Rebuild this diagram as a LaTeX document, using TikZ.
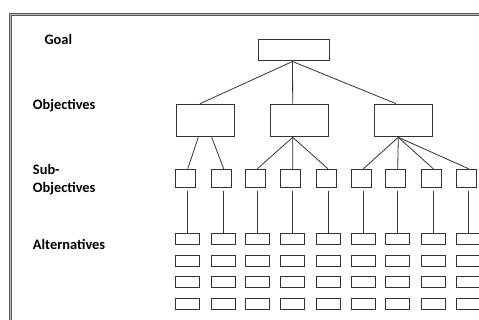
\documentclass[tikz,border=0pt]{standalone}
\usepackage{fontspec}
\setmainfont{Carlito}
\usetikzlibrary{calc}

\begin{document}
\begin{tikzpicture}[
  x=0.75pt, y=-0.75pt,
  frame/.style={draw=black!65, double=gray!55, line width=0.75pt, double distance=0.9pt},
  link/.style={draw=black!80, line width=0.6pt},
  box/.style={
    rectangle,
    draw=black!80,
    fill=white,
    line width=0.75pt,
    inner sep=0pt
  },
  goalbox/.style={box, minimum width=53.25pt, minimum height=15.75pt},
  objbox/.style={box, minimum width=43.5pt, minimum height=24.5pt},
  subbox/.style={box, minimum width=15pt, minimum height=13.8pt},
  altbox/.style={box, minimum width=18pt, minimum height=8.25pt},
  level/.style={anchor=base west, inner sep=0pt, font=\fontsize{10.8}{12.75}\selectfont\bfseries, text=black}
]
  \useasboundingbox (0,0) rectangle (479,320);
  \clip (0,0) rectangle (479,320);

  % Outer frame, running off the right and bottom edges
  \draw[frame] (10.7,14.5) rectangle (500,340);

  % Level labels
  \node[level] (goalLbl) at (44.3,44.3) {Goal};
  \node[level] (objLbl) at (32.7,110) {Objectives};
  \node[level] (subLbl) at (32.7,175) {Sub-};
  \node[level] (subLbl2) at (32.7,192.3) {Objectives};
  \node[level] (altLbl) at (32.7,249.3) {Alternatives};

  % Goal and objectives
  \node[goalbox] (goal) at (293.5,50.5) {};
  \node[objbox] (objLeft) at (205,120.5) {};
  \node[objbox] (objMid) at (299,120.5) {};
  \node[objbox] (objRight) at (403.8,120.5) {};

  \draw[link] ($(goal.south)+(-1,0)$) -- ($(objLeft.north)+(-5,0)$);
  \draw[link] ($(goal.south)+(-1,0)$) -- ($(objMid.north)+(-6.3,0)$);
  \draw[link] ($(goal.south)+(-1,0)$) -- ($(objRight.north)+(-7.8,0)$);

  % Sub-objectives with their columns of alternatives
  \foreach \xl [count=\i] in {175.7,211.7,245.3,280.7,316,351.3,385.7,421.3,456.7} {
    \node[subbox] (sub\i) at (\xl+10,178.5) {};
    \foreach \yt [count=\r] in {233.3,255.7,276.7,298.3}
      \node[altbox] (alt\i-\r) at (\xl+12,\yt+5.5) {};
    \draw[link, shorten <=2.25pt] (sub\i.south -| alt\i-1.north) -- (alt\i-1.north);
  }

  % Objectives to sub-objectives
  \draw[link] ($(objLeft.south)+(-6.7,0)$) -- (sub1.north -| alt1-1.north);
  \draw[link] ($(objLeft.south)+(6.7,0)$) -- (sub2.north -| alt2-1.north);
  \draw[link] ($(objMid.south)+(-6.3,0)$) -- (sub3.north -| alt3-1.north);
  \draw[link] ($(objMid.south)+(-6.3,0)$) -- (sub4.north -| alt4-1.north);
  \draw[link] ($(objMid.south)+(-6.3,0)$) -- (sub5.north -| alt5-1.north);
  \draw[link] ($(objRight.south)+(-5.5,0)$) -- (sub6.north -| alt6-1.north);
  \draw[link] ($(objRight.south)+(-5.5,0)$) -- (sub7.north -| alt7-1.north);
  \draw[link] ($(objRight.south)+(-5.5,0)$) -- (sub8.north -| alt8-1.north);
  \draw[link] ($(objRight.south)+(-5.5,0)$) -- (sub9.north -| alt9-1.north);
\end{tikzpicture}
\end{document}
